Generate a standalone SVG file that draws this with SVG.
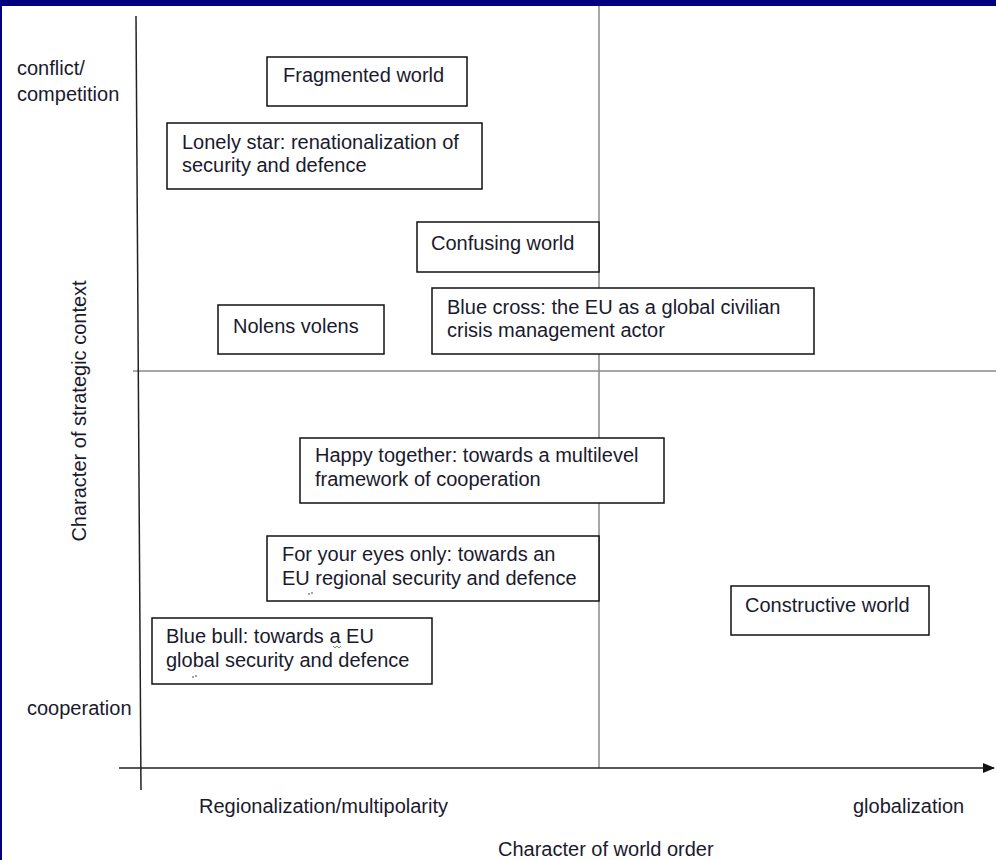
<svg xmlns="http://www.w3.org/2000/svg" width="996" height="860" viewBox="0 0 996 860">
<style>
text{font-family:"Liberation Sans",Arial,sans-serif;font-size:20px;fill:#1a1a2e}
.box{fill:#fff;stroke:#111;stroke-width:1.5}
.grid{stroke:#8a8a8a;stroke-width:1.5;fill:none}
.axis{stroke:#222;stroke-width:1.5;fill:none}
</style>
<defs>
<marker id="arr" markerWidth="12" markerHeight="10" refX="11" refY="5" orient="auto" markerUnits="userSpaceOnUse">
<path d="M0,0 L12,5 L0,10 z" fill="#111"/>
</marker>
</defs>
<rect x="0" y="0" width="996" height="860" fill="#fff"/>
<rect x="0" y="0" width="996" height="6" fill="#000080"/>
<rect x="0" y="0" width="2" height="860" fill="#000080"/>
<g id="connectors">
<line class="grid" x1="599" y1="6" x2="599" y2="768"/>
<line class="grid" x1="133" y1="371" x2="996" y2="371"/>
<line class="axis" x1="136" y1="16" x2="141" y2="790" stroke="#666"/>
<line class="axis" x1="119" y1="768" x2="994" y2="768" marker-end="url(#arr)"/>
</g>
<g id="labels">
<text x="17" y="75">conflict/</text>
<text x="17" y="101">competition</text>
<text x="27" y="715">cooperation</text>
<text x="199" y="813">Regionalization/multipolarity</text>
<text x="853" y="813">globalization</text>
<text x="498" y="856">Character of world order</text>
<text transform="translate(86,411) rotate(-90)" text-anchor="middle">Character of strategic context</text>
</g>
<g id="fragmented">
<rect class="box" x="267" y="57" width="200" height="49"/>
<text x="283" y="82">Fragmented world</text>
</g>
<g id="lonely">
<rect class="box" x="167" y="123" width="315" height="66"/>
<text x="182" y="149">Lonely star: renationalization of</text>
<text x="182" y="172">security and defence</text>
</g>
<g id="confusing">
<rect class="box" x="417" y="222" width="182" height="50"/>
<text x="431" y="250">Confusing world</text>
</g>
<g id="nolens">
<rect class="box" x="218" y="305" width="166" height="49"/>
<text x="233" y="333">Nolens volens</text>
</g>
<g id="bluecross">
<rect class="box" x="432" y="288" width="382" height="66"/>
<text x="447" y="314">Blue cross: the EU as a global civilian</text>
<text x="447" y="337">crisis management actor</text>
</g>
<g id="happy">
<rect class="box" x="300" y="438" width="364" height="65"/>
<text x="315" y="462">Happy together: towards a multilevel</text>
<text x="315" y="486">framework of cooperation</text>
</g>
<g id="eyes">
<rect class="box" x="267" y="536" width="332" height="65"/>
<text x="282" y="561">For your eyes only: towards an</text>
<text x="282" y="585">EU regional security and defence</text>
<circle cx="309" cy="594" r="0.8" fill="#333"/><circle cx="312" cy="593" r="0.8" fill="#333"/>
</g>
<g id="bluebull">
<rect class="box" x="152" y="618" width="280" height="66"/>
<text x="166" y="643">Blue bull: towards a EU</text>
<text x="166" y="667">global security and defence</text>
<path d="M333,646 l2,2 l2,-2 l2,2 l2,-2" fill="none" stroke="#2a9a2a" stroke-width="0.8"/>
<circle cx="193" cy="677" r="0.8" fill="#333"/><circle cx="196" cy="676" r="0.8" fill="#333"/>
</g>
<g id="constructive">
<rect class="box" x="731" y="586" width="198" height="49"/>
<text x="745" y="612">Constructive world</text>
</g>
</svg>
